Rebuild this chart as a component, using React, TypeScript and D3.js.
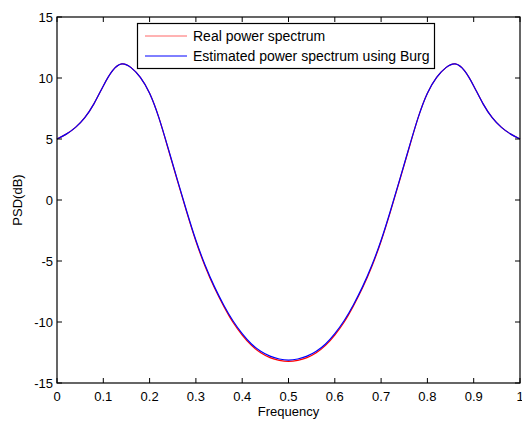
import React from "react";
import * as d3 from "d3";

const freqs = [0, 0.02, 0.04, 0.06, 0.08, 0.1, 0.12, 0.14, 0.16, 0.18, 0.2, 0.22, 0.24, 0.26, 0.28, 0.3, 0.32, 0.34, 0.36, 0.38, 0.4, 0.42, 0.44, 0.46, 0.48, 0.5,
  0.52, 0.54, 0.56, 0.58, 0.6, 0.62, 0.64, 0.66, 0.68, 0.7, 0.72, 0.74, 0.76, 0.78, 0.8, 0.82, 0.84, 0.86, 0.88, 0.9, 0.92, 0.94, 0.96, 0.98, 1];

const realPsd = [5.0, 5.4, 5.95, 6.75, 7.9, 9.35, 10.6, 11.15, 10.85, 10.05, 8.75, 6.75, 4.2, 1.6, -0.97, -3.38, -5.45, -7.2, -8.7, -10.02, -11.07, -11.92, -12.52, -12.92, -13.14, -13.22,
  -13.14, -12.92, -12.52, -11.92, -11.07, -10.02, -8.7, -7.2, -5.45, -3.38, -0.97, 1.6, 4.2, 6.75, 8.75, 10.05, 10.85, 11.15, 10.6, 9.35, 7.9, 6.75, 5.95, 5.4, 5.0];

const burgPsd = [5.0, 5.4, 5.95, 6.75, 7.9, 9.35, 10.6, 11.15, 10.85, 10.05, 8.75, 6.75, 4.25, 1.65, -0.9, -3.3, -5.35, -7.1, -8.6, -9.9, -10.95, -11.8, -12.4, -12.8, -13.03, -13.12,
  -13.03, -12.8, -12.4, -11.8, -10.95, -9.9, -8.6, -7.1, -5.35, -3.3, -0.9, 1.65, 4.25, 6.75, 8.75, 10.05, 10.85, 11.15, 10.6, 9.35, 7.9, 6.75, 5.95, 5.4, 5.0];

const xTicks = [0, 0.1, 0.2, 0.3, 0.4, 0.5, 0.6, 0.7, 0.8, 0.9, 1];
const xTickLabels = ["0", "0.1", "0.2", "0.3", "0.4", "0.5", "0.6", "0.7", "0.8", "0.9", "1"];
const yTicks = [-15, -10, -5, 0, 5, 10, 15];
const yTickLabels = ["-15", "-10", "-5", "0", "5", "10", "15"];
const seriesNames = ["Real power spectrum", "Estimated power spectrum using Burg"];

export default function App() {
  const L = 57, R = 520, T = 17, B = 383;
  const x = d3.scaleLinear().domain([0, 1]).range([L, R]);
  const y = d3.scaleLinear().domain([-15, 15]).range([B, T]);
  const line = d3.line<number>().x((_, i) => x(freqs[i])).y((d) => y(d)).curve(d3.curveNatural);
  const font = "'Liberation Sans', Arial, sans-serif";
  return (
    <svg width={522} height={421} style={{ position: "absolute", left: 0, top: 0, background: "#fff" }} fontFamily={font}>
      <rect x={0} y={0} width={522} height={421} fill="#fff" />
      <path d={line(realPsd) || ""} fill="none" stroke="#ff0000" strokeWidth={1.2} />
      <path d={line(burgPsd) || ""} fill="none" stroke="#0000ff" strokeWidth={1.2} />
      <rect x={L} y={T} width={R - L} height={B - T} fill="none" stroke="#000" strokeWidth={1.2} />
      {xTicks.map((t, i) => (
        <g key={"x" + i}>
          <line x1={x(t)} x2={x(t)} y1={B} y2={B - 5} stroke="#000" />
          <line x1={x(t)} x2={x(t)} y1={T} y2={T + 5} stroke="#000" />
          <text x={x(t)} y={401} fontSize={13} textAnchor="middle">{xTickLabels[i]}</text>
        </g>
      ))}
      {yTicks.map((t, i) => (
        <g key={"y" + i}>
          <line x1={L} x2={L + 5} y1={y(t)} y2={y(t)} stroke="#000" />
          <line x1={R} x2={R - 5} y1={y(t)} y2={y(t)} stroke="#000" />
          <text x={53} y={y(t) + 4.5} fontSize={13} textAnchor="end">{yTickLabels[i]}</text>
        </g>
      ))}
      <text x={(L + R) / 2} y={416} fontSize={13} textAnchor="middle">Frequency</text>
      <text transform={`translate(22,${(T + B) / 2}) rotate(-90)`} fontSize={13} textAnchor="middle">PSD(dB)</text>
      <rect x={137.5} y={23.5} width={297} height={45} fill="#fff" stroke="#000" strokeWidth={1.2} />
      <line x1={145} x2={187} y1={36} y2={36} stroke="#ff6666" />
      <line x1={145} x2={187} y1={56} y2={56} stroke="#0000ff" />
      <text x={193} y={41} fontSize={14}>{seriesNames[0]}</text>
      <text x={193} y={61} fontSize={14}>{seriesNames[1]}</text>
    </svg>
  );
}
